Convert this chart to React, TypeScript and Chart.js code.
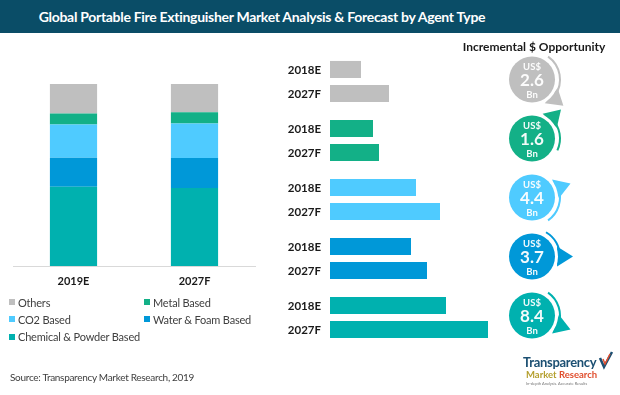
import React, { useEffect, useRef } from 'react';
import { Chart, registerables } from 'chart.js';

Chart.register(...registerables);

const FONT = 'Lato, "Open Sans", "DejaVu Sans", sans-serif';

// ---- Data ----
const shareYears = ['2019E', '2027F'];
const agentTypes = ['Others', 'Metal Based', 'CO2 Based', 'Water & Foam Based', 'Chemical & Powder Based'];
const agentColors = ['#BFBFBF', '#13B087', '#4FCBFF', '#0098D8', '#00B1AF'];

// market share (%) per agent type, [2019E, 2027F]
const othersShare = [16.2, 15.5];
const metalShare = [6.1, 6.2];
const co2Share = [18.2, 19.0];
const waterShare = [16.0, 16.4];
const chemicalShare = [43.5, 42.9];

// market size by agent type (order as agentTypes)
const marketYears = ['2018E', '2027F'];
const market2018E = [3.1, 4.3, 8.6, 8.1, 11.6];
const market2027F = [5.9, 4.9, 11.0, 9.7, 15.8];
const incrementalBn = [2.6, 1.6, 4.4, 3.7, 8.4];

const shareSeries = [othersShare, metalShare, co2Share, waterShare, chemicalShare];

// decoration of opportunity bubbles (arc from / tail angle in degrees)
const BUBBLE_DECOR = [
  { from: -55, to: 40 },
  { from: 25, to: -45 },
  { from: 55, to: -20 },
  { from: -60, to: 0 },
  { from: -55, to: 20 },
];

const rad = (d: number) => (d * Math.PI) / 180;

const bubblePlugin = {
  id: 'bubbles',
  afterDatasetsDraw(chart: any) {
    const ctx = chart.ctx as CanvasRenderingContext2D;
    const area = chart.chartArea;
    const yScale = chart.scales.y;
    ctx.save();
    // bar year labels
    ctx.font = `bold 11.5px ${FONT}`;
    ctx.fillStyle = '#1a1a1a';
    ctx.textAlign = 'right';
    ctx.textBaseline = 'middle';
    chart.data.datasets.forEach((ds: any, di: number) => {
      chart.getDatasetMeta(di).data.forEach((bar: any) => {
        ctx.fillText(ds.label, area.left - 9, bar.y + 1);
      });
    });
    // opportunity bubbles
    incrementalBn.forEach((v, i) => {
      const cx = area.right + 42;
      const cy = yScale.getPixelForValue(i) - 2;
      const r = 23;
      const col = agentColors[i];
      const d = BUBBLE_DECOR[i];
      ctx.strokeStyle = col;
      ctx.fillStyle = col;
      ctx.lineWidth = 2;
      ctx.beginPath();
      ctx.arc(cx, cy, r + 5, rad(d.from), rad(d.to), d.from > d.to);
      ctx.stroke();
      const t = rad(d.to);
      const a1 = t - 0.38;
      const a2 = t + 0.38;
      ctx.beginPath();
      ctx.moveTo(cx + (r + 4) * Math.cos(a1), cy + (r + 4) * Math.sin(a1));
      ctx.lineTo(cx + (r + 18) * Math.cos(t), cy + (r + 18) * Math.sin(t));
      ctx.lineTo(cx + (r + 4) * Math.cos(a2), cy + (r + 4) * Math.sin(a2));
      ctx.closePath();
      ctx.fill();
      // white gap
      ctx.beginPath();
      ctx.fillStyle = '#ffffff';
      ctx.arc(cx, cy, r + 3, 0, Math.PI * 2);
      ctx.fill();
      ctx.beginPath();
      ctx.fillStyle = col;
      ctx.arc(cx, cy, r, 0, Math.PI * 2);
      ctx.fill();
      ctx.fillStyle = 'rgba(255,255,255,0.95)';
      ctx.textAlign = 'center';
      ctx.textBaseline = 'middle';
      ctx.font = `bold 9.5px ${FONT}`;
      ctx.fillText('US$', cx, cy - 13);
      ctx.font = `bold 17px ${FONT}`;
      ctx.fillText(v.toFixed(1), cx, cy + 1);
      ctx.font = `bold 9.5px ${FONT}`;
      ctx.fillText('Bn', cx, cy + 15);
    });
    ctx.restore();
  },
};

function ShareChart() {
  const ref = useRef<HTMLCanvasElement>(null);
  useEffect(() => {
    const order = [4, 3, 2, 1, 0];
    const chart = new Chart(ref.current!, {
      type: 'bar',
      data: {
        labels: shareYears,
        datasets: order.map((i) => ({
          label: agentTypes[i],
          data: shareSeries[i],
          backgroundColor: agentColors[i],
          barPercentage: 0.39,
          categoryPercentage: 1,
        })),
      },
      options: {
        animation: false,
        responsive: false,
        maintainAspectRatio: false,
        layout: { padding: { top: 84, left: 13, right: 5, bottom: 0 } },
        plugins: { legend: { display: false }, tooltip: { enabled: false } },
        scales: {
          x: {
            stacked: true,
            grid: { display: false, drawTicks: false },
            border: { display: true, color: '#D9D9D9', width: 1 },
            ticks: { color: '#1a1a1a', padding: 9, font: { family: FONT, size: 11, weight: 'bold' } },
            afterFit: (s: any) => {
              s.height = 34;
            },
          },
          y: { stacked: true, display: false, min: 0, max: 100 },
        },
      } as any,
    });
    return () => chart.destroy();
  }, []);
  return (
    <canvas
      ref={ref}
      width={260}
      height={300}
      style={{ position: 'absolute', left: 0, top: 0, width: 260, height: 300 }}
    />
  );
}

function MarketChart() {
  const ref = useRef<HTMLCanvasElement>(null);
  useEffect(() => {
    const chart = new Chart(ref.current!, {
      type: 'bar',
      data: {
        labels: agentTypes,
        datasets: [
          { label: marketYears[0], data: market2018E, backgroundColor: agentColors },
          { label: marketYears[1], data: market2027F, backgroundColor: agentColors },
        ],
      },
      options: {
        indexAxis: 'y',
        animation: false,
        responsive: false,
        maintainAspectRatio: false,
        layout: { padding: { top: 52, left: 60, right: 130, bottom: 48 } },
        datasets: { bar: { categoryPercentage: 0.815, barPercentage: 0.71 } },
        plugins: { legend: { display: false }, tooltip: { enabled: false } },
        scales: {
          x: { display: false, min: 0, max: 16 },
          y: { display: false },
        },
      } as any,
      plugins: [bubblePlugin],
    });
    return () => chart.destroy();
  }, []);
  return (
    <canvas
      ref={ref}
      width={350}
      height={395}
      style={{ position: 'absolute', left: 270, top: 0, width: 350, height: 395 }}
    />
  );
}

export default function App() {
  const legendOrder = [0, 1, 2, 3, 4];
  return (
    <div
      style={{
        position: 'absolute',
        left: 0,
        top: 0,
        width: 620,
        height: 395,
        background: '#ffffff',
        overflow: 'hidden',
        fontFamily: FONT,
      }}
    >
      <div style={{ position: 'absolute', left: 0, top: 0, width: 620, height: 33, background: '#0A4D67' }} />
      <div
        style={{
          position: 'absolute',
          left: 0,
          top: 0,
          width: 524,
          height: 33,
          lineHeight: '33px',
          textAlign: 'center',
          color: '#ffffff',
          fontWeight: 700,
          fontSize: 14,
          letterSpacing: -0.3,
          whiteSpace: 'nowrap',
        }}
      >
        Global Portable Fire Extinguisher Market Analysis &amp; Forecast by Agent Type
      </div>
      <ShareChart />
      <MarketChart />
      <div
        style={{
          position: 'absolute',
          left: 434,
          top: 39,
          width: 200,
          textAlign: 'center',
          fontWeight: 700,
          fontSize: 12,
          color: '#1a1a1a',
          whiteSpace: 'nowrap',
        }}
      >
        Incremental $ Opportunity
      </div>
      {legendOrder.map((i, k) => (
        <div
          key={i}
          style={{
            position: 'absolute',
            left: k % 2 === 0 ? 9 : 144,
            top: 294 + Math.floor(k / 2) * 17.3,
            height: 16,
            display: 'flex',
            alignItems: 'center',
            fontSize: 11,
            letterSpacing: -0.2,
            color: '#404040',
            whiteSpace: 'nowrap',
          }}
        >
          <span style={{ display: 'inline-block', width: 6, height: 6, background: agentColors[i], marginRight: 3 }} />
          {agentTypes[i]}
        </div>
      ))}
      <div
        style={{
          position: 'absolute',
          left: 10,
          top: 371,
          fontSize: 10,
          letterSpacing: -0.3,
          color: '#404040',
          whiteSpace: 'nowrap',
        }}
      >
        Source: Transparency Market Research, 2019
      </div>
      <div style={{ position: 'absolute', left: 523, top: 356, lineHeight: 1 }}>
        <div style={{ fontSize: 13, fontWeight: 700, color: '#1B4F72', letterSpacing: -0.3 }}>Transparency</div>
        <div style={{ fontSize: 9.5, fontWeight: 700, marginTop: 1, marginLeft: 3 }}>
          <span style={{ color: '#B5A030' }}>Market </span>
          <span style={{ color: '#E04E2E' }}>Research</span>
        </div>
        <div style={{ fontSize: 4, color: '#777', marginTop: 2, marginLeft: 3 }}>In-depth Analysis. Accurate Results</div>
      </div>
      <svg style={{ position: 'absolute', left: 598, top: 350 }} width={16} height={20} viewBox="0 0 16 20">
        <polyline points="2,8 6,17 14,2" fill="none" stroke="#1B4F72" strokeWidth={2.5} />
        <polyline points="5,9 7,14 12,4" fill="none" stroke="#E04E2E" strokeWidth={1.5} />
      </svg>
    </div>
  );
}
